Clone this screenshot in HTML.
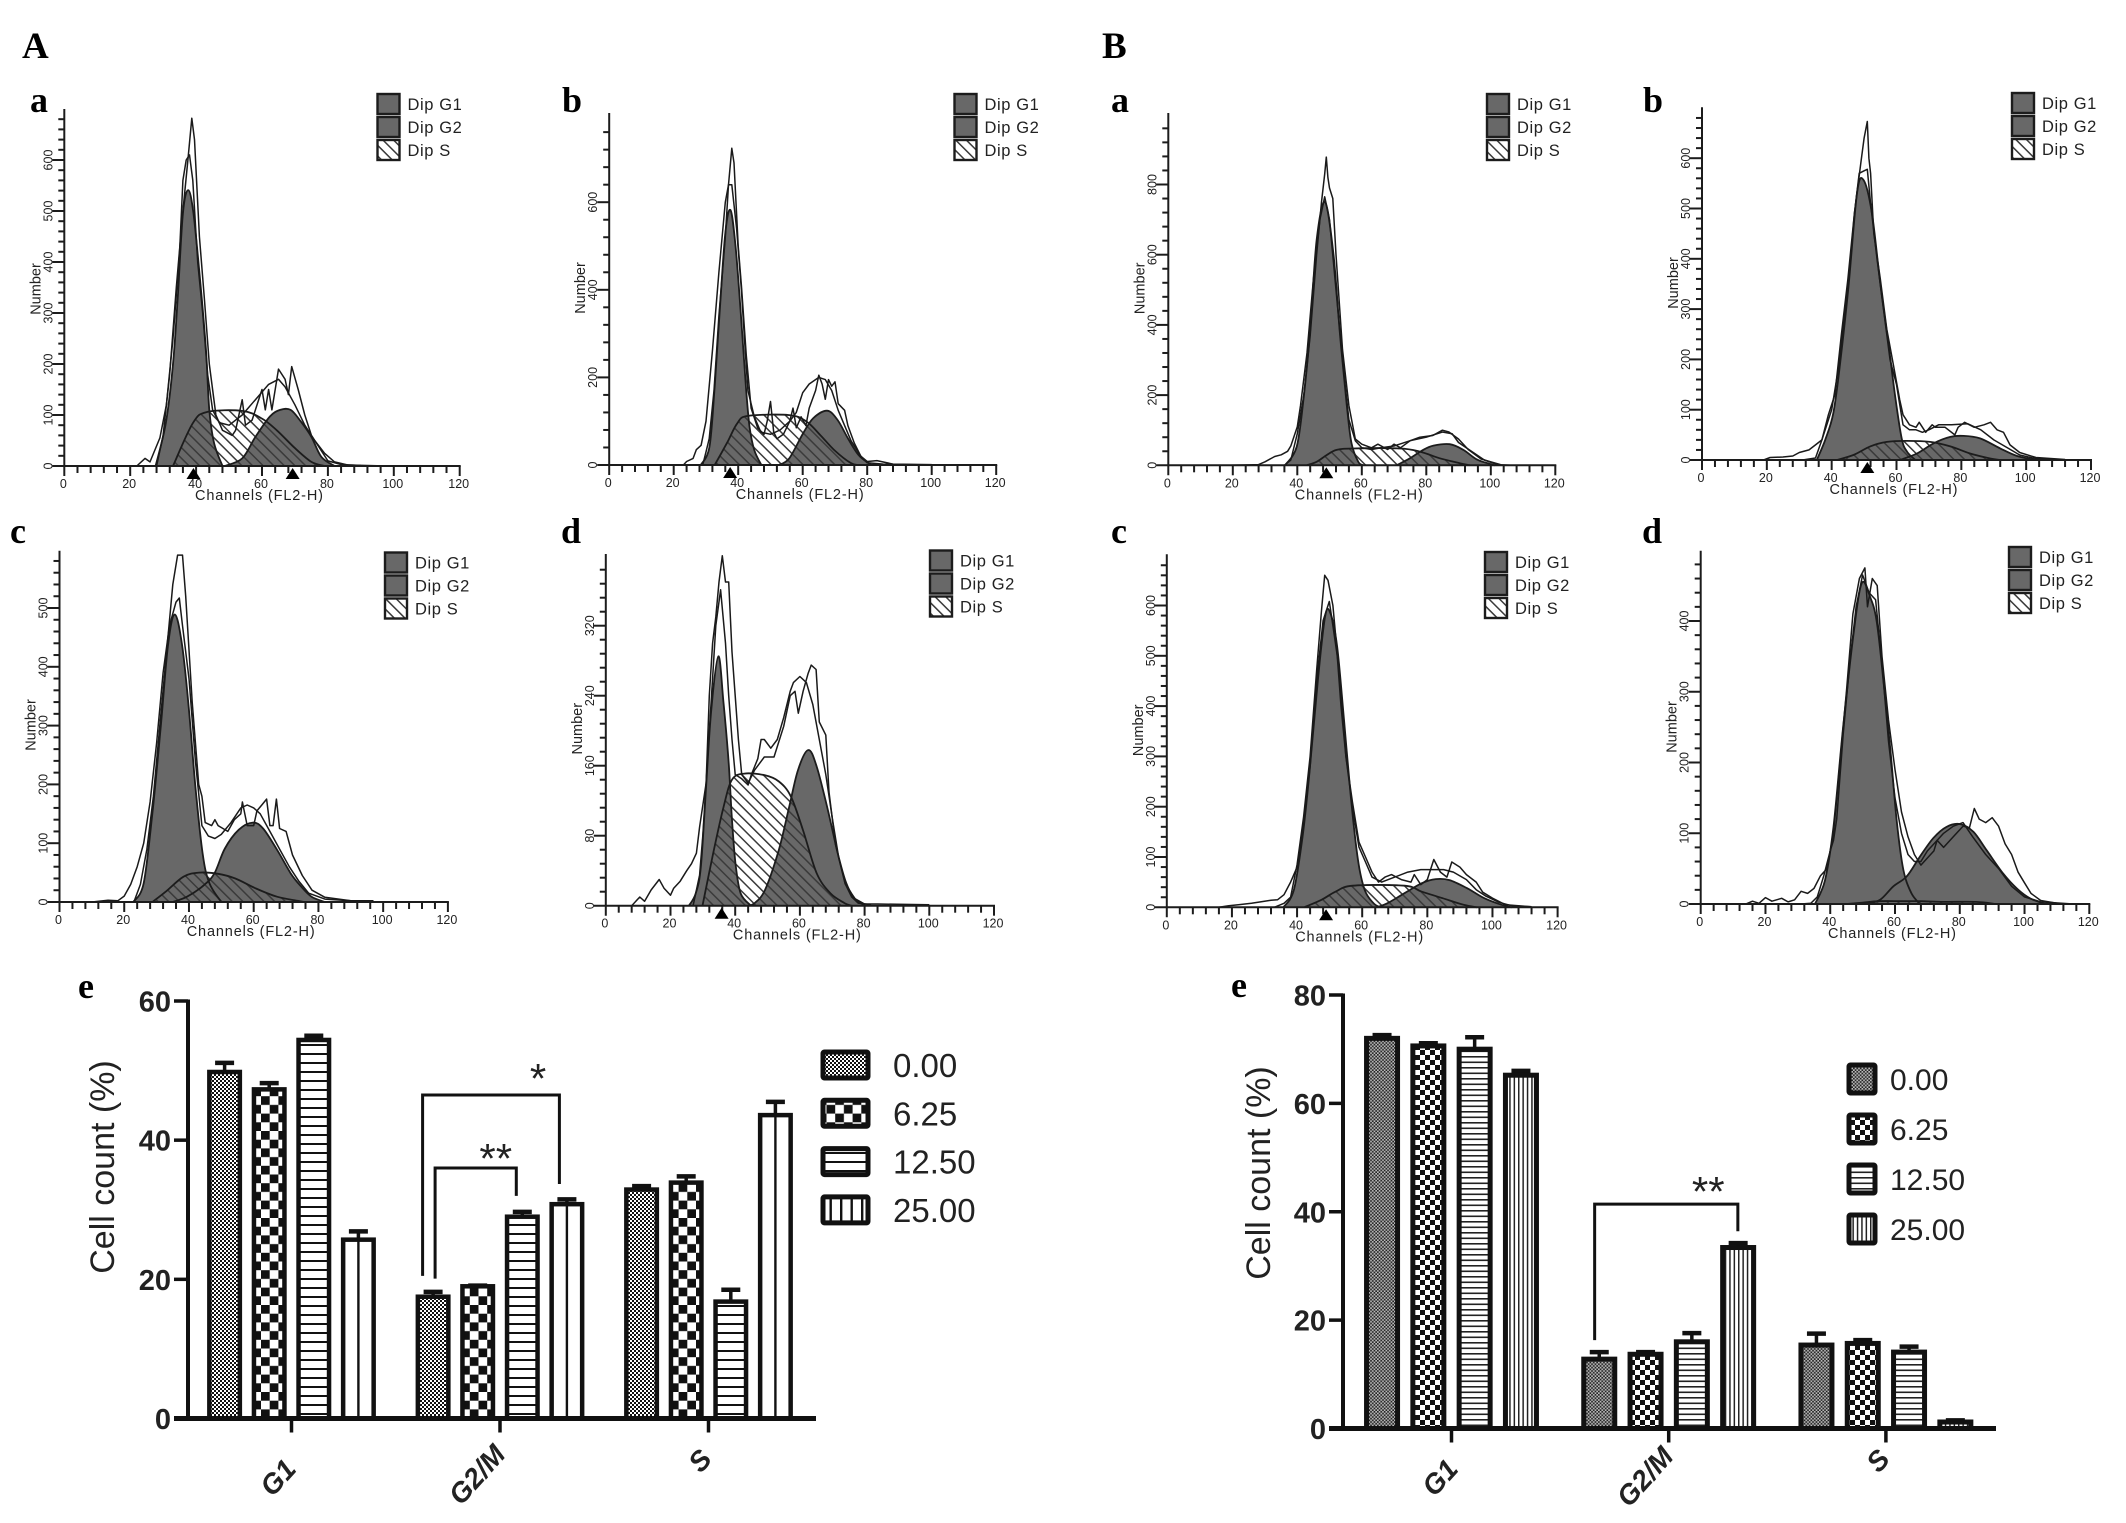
<!DOCTYPE html>
<html lang="en">
<head>
<meta charset="utf-8">
<title>Cell cycle flow cytometry histograms and cell count bar charts</title>
<style>
html,body{margin:0;padding:0;background:#fff;width:2126px;height:1523px;overflow:hidden}
svg{display:block}
text{font-family:"Liberation Sans",sans-serif;fill:#222}
.serif{font-family:"Liberation Serif",serif;font-weight:bold;fill:#000}
</style>
</head>
<body>
<svg id="figure" xmlns="http://www.w3.org/2000/svg" width="2126" height="1523" viewBox="0 0 2126 1523">
<defs>
<pattern id="hatch" width="7.5" height="7.5" patternUnits="userSpaceOnUse" patternTransform="rotate(45)"><rect x="0" y="0" width="7.5" height="1.5" fill="#3a3a3a"/></pattern>
<pattern id="dotsA" width="4" height="4" patternUnits="userSpaceOnUse"><rect width="4" height="4" fill="#fff"/><rect width="2" height="2" fill="#111"/><rect x="2" y="2" width="2" height="2" fill="#111"/></pattern>
<pattern id="checkA" width="17.4" height="17.4" patternUnits="userSpaceOnUse"><rect width="17.4" height="17.4" fill="#fff"/><rect width="8.7" height="8.7" fill="#111"/><rect x="8.7" y="8.7" width="8.7" height="8.7" fill="#111"/></pattern>
<pattern id="hlinesA" width="9" height="9" patternUnits="userSpaceOnUse"><rect width="9" height="9" fill="#fff"/><rect width="9" height="2" fill="#111"/></pattern>
<pattern id="vlinesALegend" width="10.5" height="10.5" patternUnits="userSpaceOnUse"><rect width="10.5" height="10.5" fill="#fff"/><rect width="2.4" height="10.5" fill="#111"/></pattern>
<pattern id="dotsB" width="3.4" height="3.4" patternUnits="userSpaceOnUse"><rect width="3.4" height="3.4" fill="#bbb"/><rect width="1.7" height="1.7" fill="#222"/><rect x="1.7" y="1.7" width="1.7" height="1.7" fill="#222"/></pattern>
<pattern id="checkB" width="10" height="10" patternUnits="userSpaceOnUse"><rect width="10" height="10" fill="#fff"/><rect width="5" height="5" fill="#111"/><rect x="5" y="5" width="5" height="5" fill="#111"/></pattern>
<pattern id="hlinesB" width="5.5" height="5.5" patternUnits="userSpaceOnUse"><rect width="5.5" height="5.5" fill="#fff"/><rect width="5.5" height="1.6" fill="#222"/></pattern>
<pattern id="vlinesB" width="4.4" height="4.4" patternUnits="userSpaceOnUse"><rect width="4.4" height="4.4" fill="#fff"/><rect width="1.5" height="4.4" fill="#222"/></pattern>
</defs>
<text class="serif" x="22" y="58" font-size="37">A</text>
<text class="serif" x="1102" y="58" font-size="37">B</text>
</svg>
<script>
/* ---------- Histogram shared labels ---------- */
const channelTicks = [0,20,40,60,80,100,120];
const legendLabels = ['Dip G1','Dip G2','Dip S'];

/* ---------- Panel A-a ---------- */
const aaYLabels = [100,200,300,400,500,600];
const aaPeaks = [39.2,69.3];
const aaG1Ch = [27.7,30.8,33,34.5,36,37.6,39.2,41.3,43,44,45.5,48];
const aaG1N  = [0,84,200,338,495,541,495,358,227,110,44,0];
const aaSCh = [33,39,43.4,54,60,64.5,70,75,79];
const aaSN  = [0,84,106,108,93,70,35,8,0];
const aaG2Ch = [48.7,54,58,62.4,65.5,68.7,71.8,75,78,82];
const aaG2N  = [0,15,57,97,110,110,87,57,18,0];
const aaR1Ch = [22,24.5,26,29,31,33,35,36,37,38,39,40.5,42,43.5,45,47,50,54,58,62,65,67,70,73,76,79,82,86,98];
const aaR1N  = [0,15,8,55,120,250,420,560,600,610,560,400,300,180,110,85,80,100,130,160,170,155,120,80,50,25,8,2,0];
const aaR2Ch = [28,30,32,34,36,37.5,38.7,39.5,41,42.5,44,46,48,51,52,54,55,57,60,61,62,63,65,67,68,69,71,73,75,77,80,84,90];
const aaR2N  = [0,60,180,350,500,600,682,640,450,330,200,100,70,60,70,130,80,90,150,110,150,110,190,170,140,195,150,100,60,40,10,3,1];

/* ---------- Panel A-b ---------- */
const abYLabels = [200,400,600];
const abPeaks = [37.5];
const abG1Ch = [28.4,31.1,32.7,34.3,36,37.6,39.2,40.8,42.4,43.5,45,47.2];
const abG1N  = [0,42,179,354,529,582,498,346,179,88,34,0];
const abSCh = [32.7,36.5,39.7,43,55.8,61.2,65.5,69.8,75,77.3];
const abSN  = [0,50,95,112,114,99,68,34,4,0];
const abG2Ch = [52.6,55.8,60.1,63.3,67.6,70.8,74,77.3,80.5,81.6];
const abG2N  = [0,15,72,107,124,103,61,23,4,0];
const abR1Ch = [23,24,26,27,28.5,30,32,34,36,37,38,39.5,41,42,43,45,47,50,53,56,58,60,62,65,67,69,71,73,75,78,80,85,100];
const abR1N  = [0,8,15,35,45,100,260,440,600,640,640,540,400,280,170,110,75,70,80,100,120,165,185,200,195,170,125,90,55,20,5,2,0];
const abR2Ch = [29,30,31,32.5,34,36,37,38,38.7,40,41,42.5,44,46,48,49,50,51,52,54,56,57,58,59.5,61,62,64,65,66,67,68,69,70,71,73,74,76,78,80,83,88,100];
const abR2N  = [0,30,60,170,340,520,640,723,690,500,410,250,130,85,70,100,145,75,60,70,100,130,85,110,90,130,170,205,185,150,195,180,190,140,125,90,50,20,8,10,2,1];

/* ---------- Panel A-c ---------- */
const acYLabels = [100,200,300,400,500];
const acPeaks = [];
const acG1Ch = [22.8,26,28.7,31.3,33.5,35.6,37.8,39.9,42,44.2,46.3,50];
const acG1N  = [0,32,151,299,435,489,440,333,196,83,32,0];
const acSCh = [28.7,32.9,38.3,43.1,49,54.3,60.7,67.2,73.6,75.7];
const acSN  = [0,18,43,50,48,40,23,9,2,0];
const acG2Ch = [35,39.4,44.7,47.9,51.1,55.4,59.7,62.9,67.2,71.4,74.7,77.9,82];
const acG2N  = [0,9,29,49,91,123,135,125,89,49,26,9,0];
const acR1Ch = [10,15,18,20,22,24,26,28,30,32,34,36,37,38,40,42,44,46,48,50,53,56,58,60,62,65,68,71,74,77,82,90,96];
const acR1N  = [0,3,2,10,30,60,100,170,270,390,470,510,517,470,380,240,130,112,108,115,135,160,165,160,150,120,90,60,35,15,5,2,1];
const acR2Ch = [23,25,27,29,31,33,35,36.5,38,39,41,43,44,45,47,48,49,52,54,56,56.5,58,60,61,62.5,64,65,66,67,68,70,72,75,78,82,90,97];
const acR2N  = [0,30,90,180,300,420,540,590,590,520,340,200,180,135,130,140,130,120,140,150,170,130,130,155,165,175,130,130,175,125,120,80,45,20,8,2,2];

/* ---------- Panel A-d ---------- */
const adYLabels = [80,160,240,320];
const adPeaks = [35.8];
const adG1Ch = [25.7,27.8,29.4,31,32.6,34.8,36.4,38,39,40.1,41.7,44.9];
const adG1N  = [0,14,45,136,224,285,231,163,98,48,14,0];
const adSCh = [29.9,33.2,36.4,39,42.8,49.2,53.5,57.2,61,65.2,69.5,73.8,75.9];
const adSN  = [0,60,113,144,151,149,142,125,86,37,14,3,0];
const adG2Ch = [44,46,49.2,53.5,56.7,59.4,62.6,65.2,68.4,71.7,74.3,77,80.2];
const adG2N  = [0,3,18,64,113,155,178,159,113,60,26,8,0];
const adR1Ch = [8,10.5,12,14,16.5,18,20,21,23,25,26.5,28,29,31,33,34,35.5,37,38,39,40,42,44,45,47,48,49,51,53,55,57,58,60,62,64,66,68,70,72,74,77,80,84,100];
const adR1N  = [0,10,5,18,30,20,12,20,28,40,48,60,90,140,260,320,361,300,240,190,150,145,138,150,168,190,190,180,190,215,245,255,262,255,230,190,150,100,55,25,8,2,2,1];
const adR2Ch = [27,29,30,31,32,33,34,35,36,37,38,39,40,41,42,43,44,46,49,52,55,57,58.5,59.5,61,62.5,63.5,65,66,68,69,71,74,76,78,82];
const adR2N  = [0,35,80,140,240,300,330,370,400,370,370,290,240,190,150,145,140,155,170,170,205,240,245,220,245,265,275,270,210,195,130,70,25,10,3,1];

/* ---------- Panel B-a ---------- */
const baYLabels = [200,400,600,800];
const baPeaks = [49];
const baG1Ch = [36.2,39.8,41.9,43.9,46,48.6,51.2,53.2,55.3,56.8,58.9,60.5];
const baG1N  = [0,53,186,376,641,750,603,376,176,63,10,0];
const baSCh = [42.9,46,49.1,52.2,57.4,71.8,78,84.2,90.4,93.5];
const baSN  = [0,10,29,44,48,48,39,20,6,0];
const baG2Ch = [70.8,74.9,79,82.2,87.3,91.5,95.6,99.7,101.3];
const baG2N  = [0,20,44,56,60,44,17,4,0];
const baR1Ch = [19,25,28,30,33,35,37,38,40,41,43,45,47,48.5,50,52,54,56,58,60,63,66,70,75,80,85,88,90,94,98,102,106];
const baR1N  = [0,1,2,10,25,30,40,55,110,170,320,530,700,765,700,500,300,130,70,50,45,50,55,70,80,95,90,65,40,15,2,0];
const baR2Ch = [36,38,40,42,44,46,47.5,48.5,49,49.5,50,51,52,54,56,58,60,63,65,68,70,72,75,78,82,85,87,90,93,97,100,103];
const baR2N  = [0,15,90,200,370,600,750,830,878,820,790,760,600,330,170,75,60,50,60,45,60,50,70,80,85,100,95,75,45,18,10,2];

/* ---------- Panel B-b ---------- */
const bbYLabels = [100,200,300,400,500,600];
const bbPeaks = [51];
const bbG1Ch = [35.4,38,40.5,42.6,45.2,47.8,49.8,52.4,55,57.5,59.6,61.6,63.2,65.8];
const bbG1N  = [0,40,93,192,345,530,557,491,351,232,126,43,17,0];
const bbSCh = [41.6,46.7,51.9,57,63.2,70.4,76.6,82.7,88.9,92];
const bbSN  = [0,10,27,36,38,36,27,13,3,0];
const bbG2Ch = [61.1,66.3,71.4,76.6,80.7,85.8,92,97.2,102.3,104.4];
const bbG2N  = [0,13,33,46,48,43,23,8,1,0];
const bbR1Ch = [19,21,25,28,30,33,35,37,38,40,42,45,47,48.5,50,51,52,54,56,58,60,62,64,66,68,70,73,77,82,86,90,94,98,102,107];
const bbR1N  = [0,5,6,8,15,20,30,40,60,100,180,340,490,570,575,578,510,400,300,200,150,70,60,60,55,60,70,70,72,60,40,25,10,4,1];
const bbR2Ch = [31,35,37,39,41,43,45,47,49,50,51,51.5,52,53,55,57,59,61,62,64,66,67,69,71,72,75,78,79,81,84,87,89,91,93,95,98,103,112];
const bbR2N  = [0,4,40,90,130,250,360,490,590,640,673,600,570,450,360,260,190,120,90,70,65,75,55,70,65,65,50,65,75,65,70,75,60,55,30,15,5,1];

/* ---------- Panel B-c ---------- */
const bcYLabels = [100,200,300,400,500,600];
const bcPeaks = [48.9];
const bcG1Ch = [35.8,39,41.7,43.8,46.4,48.6,50.2,52.3,54.4,56.5,58.7,60.8,63.5,65.6];
const bcG1N  = [0,34,141,267,452,578,585,519,373,220,94,34,8,0];
const bcSCh = [42.2,47.5,51.8,57.1,73,78.3,84.7,91.1,95.3];
const bcSN  = [0,15,31,43,43,31,18,5,0];
const bcG2Ch = [64.5,67.7,73,78.3,82.6,86.8,92.2,97.5,102.8,106];
const bcG2N  = [0,8,28,48,56,54,38,18,5,0];
const bcR1Ch = [16,19,22,26,30,32,34,36,38,40,42,44,46,48,49.9,51,53,55,57,59,61,63,66,70,74,78,82,85,88,92,95,98,102,106,112];
const bcR1N  = [0,3,5,8,12,14,15,25,50,80,170,280,450,570,608,560,470,300,200,120,90,60,50,60,70,75,75,75,70,55,35,22,10,3,1];
const bcR2Ch = [33,36,38,40,42,44,46,47.5,48.5,49.5,51,52,53.5,55,57,59,61,63,65,67,69,72,75,76,78,80,82,84,86,87.5,90,92,95,97,100,104,112];
const bcR2N  = [0,8,20,85,180,300,470,590,660,650,600,530,400,300,210,130,100,70,50,60,65,55,50,65,45,55,95,70,60,90,80,65,50,30,18,5,1];

/* ---------- Panel B-d ---------- */
const bdYLabels = [100,200,300,400];
const bdPeaks = [];
const bdG1Ch = [35.3,38.4,41,44,47.1,49.7,52.3,54.3,56.4,58.5,60.5,62.6,65.1,67.7];
const bdG1N  = [0,34,109,251,378,453,434,401,317,222,119,48,15,0];
const bdSCh = [45,50,55,62,68,75,85,91];
const bdSN  = [0,2,4,4,4,3,3,0];
const bdG2Ch = [51.2,55.4,59.5,63.6,67.7,71.8,75.9,80.1,84.2,88.3,93.4,97.6,101.7,105.8,107.3];
const bdG2N  = [0,6,25,39,67,93,109,113,102,76,43,22,8,1,0];
const bdR1Ch = [14,16,18,20,22,25,27,29,31,33,35,37,39,40,41,42,44,46,48,50,52,54,56,58,60,62,64,66,68,70,72,75,78,81,84,88,92,96,100,105,115];
const bdR1N  = [0,4,1,9,4,8,3,6,18,15,22,40,50,75,90,120,240,340,420,465,440,430,340,230,150,100,70,60,60,75,85,100,110,115,95,70,50,25,10,3,0];
const bdR2Ch = [31,34,36,38,40,41,43,45,47,49,50.7,51.5,53,54.5,56,58,60,62,64,66,68,70,72,73,75,78,81,83,84.5,86,88,90,92,94,96,98,100,102,105,110];
const bdR2N  = [0,1,10,40,75,100,200,300,410,460,475,420,460,450,350,260,190,130,95,70,55,65,75,90,80,95,110,108,135,120,115,122,110,85,70,45,30,15,5,1];

/* ---------- Bar chart A (panel e) ---------- */
const aCategories = ['G1','G2/M','S'];
const aDoseLabels = ['0.00','6.25','12.50','25.00'];
const aTicks = [0,20,40,60];
const aDose000 = [49.8,17.5,32.9];
const aDose625 = [47.3,19.0,33.9];
const aDose1250 = [54.4,29.0,16.8];
const aDose2500 = [25.7,30.8,43.6];
const aErr000 = [1.3,0.7,0.5];
const aErr625 = [0.9,0.1,0.9];
const aErr1250 = [0.6,0.7,1.7];
const aErr2500 = [1.2,0.7,1.9];

/* ---------- Bar chart B (panel e) ---------- */
const bCategories = ['G1','G2/M','S'];
const bDoseLabels = ['0.00','6.25','12.50','25.00'];
const bTicks = [0,20,40,60,80];
const bDose000 = [72.0,12.8,15.4];
const bDose625 = [70.6,13.7,15.7];
const bDose1250 = [70.0,16.0,14.1];
const bDose2500 = [65.2,33.4,1.2];
const bErr000 = [0.6,1.3,2.1];
const bErr625 = [0.5,0.4,0.6];
const bErr1250 = [2.2,1.6,1.0];
const bErr2500 = [0.8,0.8,0.3];

const NS = 'http://www.w3.org/2000/svg';
const root = document.getElementById('figure');
function make(parent, tag, attrs, txt){
  const el = document.createElementNS(NS, tag);
  for (const k in attrs) el.setAttribute(k, attrs[k]);
  if (txt !== undefined) el.textContent = txt;
  parent.appendChild(el);
  return el;
}
function zip(xs, ys){
  const out = [];
  for (let i = 0; i < Math.min(xs.length, ys.length); i++) out.push([xs[i], ys[i]]);
  return out;
}
function smooth(p){
  let d = 'M' + p[0][0].toFixed(1) + ' ' + p[0][1].toFixed(1);
  for (let i = 0; i < p.length - 1; i++){
    const a = p[Math.max(i-1,0)], b = p[i], c = p[i+1], e = p[Math.min(i+2,p.length-1)];
    const c1x = b[0] + (c[0]-a[0])/6, c1y = b[1] + (c[1]-a[1])/6;
    const c2x = c[0] - (e[0]-b[0])/6, c2y = c[1] - (e[1]-b[1])/6;
    d += 'C' + c1x.toFixed(1) + ' ' + c1y.toFixed(1) + ' ' + c2x.toFixed(1) + ' ' + c2y.toFixed(1) + ' ' + c[0].toFixed(1) + ' ' + c[1].toFixed(1);
  }
  return d;
}

function drawHistogram(cfg){
  const x = ch => cfg.x0 + ch * (cfg.x120 - cfg.x0) / 120;
  const y = n => cfg.y0 - n * cfg.pxPerCount;
  const g = make(root, 'g', {});
  
  

  const lab = make(g, 'text', {class:'serif', x:cfg.labelX, y:cfg.labelY, 'font-size':36}, cfg.letter);
  
  

  const pts = s => zip(s[0], s[1]).map(p => [x(p[0]), y(p[1])]);
  const g1 = pts(cfg.g1), g2 = pts(cfg.g2), s = pts(cfg.s);
  const area = p => smooth(p) + 'L' + p[p.length-1][0].toFixed(1) + ' ' + cfg.y0 + 'L' + p[0][0].toFixed(1) + ' ' + cfg.y0 + 'Z';

  const g1Fill = make(g, 'path', {d:area(g1), fill:'#686868'});
  
  
  const g2Fill = make(g, 'path', {d:area(g2), fill:'#686868'});
  
  
  const sFill = make(g, 'path', {d:area(s), fill:'url(#hatch)'});
  
  

  [[g1,'dip-g1-outline'],[g2,'dip-g2-outline'],[s,'dip-s-outline']].forEach(function(o){
    const line = make(g, 'path', {d:smooth(o[0]), fill:'none', stroke:'#1c1c1c', 'stroke-width':1.8});
    
    
  });
  [[cfg.r1,'raw-histogram-trace-1'],[cfg.r2,'raw-histogram-trace-2']].forEach(function(o){
    const line = make(g, 'polyline', {points:pts(o[0]).map(p => p[0].toFixed(1)+','+p[1].toFixed(1)).join(' '), fill:'none', stroke:'#1a1a1a', 'stroke-width':1.5, 'stroke-linejoin':'round'});
    
    
  });

  /* axes */
  const yAxis = make(g, 'line', {x1:cfg.x0, x2:cfg.x0, y1:cfg.top, y2:cfg.y0 + 10, stroke:'#1c1c1c', 'stroke-width':2});
  
  
  const xAxis = make(g, 'line', {x1:cfg.x0 - 12, x2:cfg.x120 + 1, y1:cfg.y0, y2:cfg.y0, stroke:'#1c1c1c', 'stroke-width':2});
  
  

  for (let c = 4; c <= 120; c += 4){
    const major = c % 20 === 0;
    const t = make(g, 'line', {x1:x(c), x2:x(c), y1:cfg.y0, y2:cfg.y0 + (major ? 10 : 7), stroke:'#1c1c1c', 'stroke-width':2});
    
    
  }
  for (let n = cfg.yStep; y(n) >= cfg.top + 2; n += cfg.yStep){
    const major = n % cfg.yLabels[0] === 0;
    const t = make(g, 'line', {x1:cfg.x0 - (major ? 12 : 6), x2:cfg.x0, y1:y(n), y2:y(n), stroke:'#1c1c1c', 'stroke-width':2});
    
    
  }
  channelTicks.forEach(function(c){
    const t = make(g, 'text', {x:x(c) - 1, y:cfg.y0 + 22, 'font-size':12.5, 'text-anchor':'middle'}, String(c));
    
    
  });
  [0].concat(cfg.yLabels).forEach(function(n){
    const lx = cfg.x0 - 12, ly = y(n);
    const t = make(g, 'text', {x:lx, y:ly, 'font-size':12.5, 'text-anchor':'middle', transform:'rotate(-90 ' + lx + ' ' + ly + ')'}, String(n));
    
    
  });
  const nx = cfg.x0 - 24, ny = cfg.y0 - 177;
  const ytitle = make(g, 'text', {x:nx, y:ny, 'font-size':14.5, 'text-anchor':'middle', transform:'rotate(-90 ' + nx + ' ' + ny + ')'}, 'Number');
  
  
  const cx = (cfg.x0 + cfg.x120) / 2 - 3;
  const xtitle = make(g, 'text', {x:cx, y:cfg.y0 + 34, 'font-size':14.5, 'text-anchor':'middle', textLength:128, lengthAdjust:'spacing'}, 'Channels (FL2-H)');
  
  

  cfg.peaks.forEach(function(c){
    const px = x(c);
    const tri = make(g, 'polygon', {points:(px-7)+','+(cfg.y0+13)+' '+(px+7)+','+(cfg.y0+13)+' '+px+','+(cfg.y0+2), fill:'#000'});
    
    
  });

  legendLabels.forEach(function(l, i){
    const sy = cfg.legendY + i * 23;
    const sw = make(g, 'rect', {x:cfg.legendX, y:sy, width:22, height:20, fill:i === 2 ? 'url(#hatch)' : '#686868', stroke:'#1c1c1c', 'stroke-width':2.4});
    
    
    const tx = make(g, 'text', {x:cfg.legendX + 30, y:sy + 16, 'font-size':16.5, 'letter-spacing':0.6}, l);
    
    
  });
}

drawHistogram({id:'a-a', letter:'a', labelX:30, labelY:112, x0:64.3, x120:459.7, y0:466, top:109, pxPerCount:0.51, yStep:20, yLabels:aaYLabels, peaks:aaPeaks, legendX:377.5, legendY:94, g1:[aaG1Ch,aaG1N], s:[aaSCh,aaSN], g2:[aaG2Ch,aaG2N], r1:[aaR1Ch,aaR1N], r2:[aaR2Ch,aaR2N]});
drawHistogram({id:'a-b', letter:'b', labelX:562, labelY:112, x0:609.2, x120:996.2, y0:465, top:113, pxPerCount:0.438, yStep:40, yLabels:abYLabels, peaks:abPeaks, legendX:954.5, legendY:94, g1:[abG1Ch,abG1N], s:[abSCh,abSN], g2:[abG2Ch,abG2N], r1:[abR1Ch,abR1N], r2:[abR2Ch,abR2N]});
drawHistogram({id:'a-c', letter:'c', labelX:10, labelY:543, x0:59.5, x120:447.9, y0:902, top:550.7, pxPerCount:0.588, yStep:20, yLabels:acYLabels, peaks:acPeaks, legendX:385, legendY:552.5, g1:[acG1Ch,acG1N], s:[acSCh,acSN], g2:[acG2Ch,acG2N], r1:[acR1Ch,acR1N], r2:[acR2Ch,acR2N]});
drawHistogram({id:'a-d', letter:'d', labelX:561, labelY:543, x0:605.8, x120:994, y0:905.7, top:554, pxPerCount:0.875, yStep:16, yLabels:adYLabels, peaks:adPeaks, legendX:930, legendY:550.5, g1:[adG1Ch,adG1N], s:[adSCh,adSN], g2:[adG2Ch,adG2N], r1:[adR1Ch,adR1N], r2:[adR2Ch,adR2N]});
drawHistogram({id:'b-a', letter:'a', labelX:1111, labelY:112, x0:1168.3, x120:1555.3, y0:465.3, top:113, pxPerCount:0.351, yStep:40, yLabels:baYLabels, peaks:baPeaks, legendX:1487, legendY:94, g1:[baG1Ch,baG1N], s:[baSCh,baSN], g2:[baG2Ch,baG2N], r1:[baR1Ch,baR1N], r2:[baR2Ch,baR2N]});
drawHistogram({id:'b-b', letter:'b', labelX:1643, labelY:112, x0:1702, x120:2091, y0:460, top:107.3, pxPerCount:0.503, yStep:20, yLabels:bbYLabels, peaks:bbPeaks, legendX:2012, legendY:93, g1:[bbG1Ch,bbG1N], s:[bbSCh,bbSN], g2:[bbG2Ch,bbG2N], r1:[bbR1Ch,bbR1N], r2:[bbR2Ch,bbR2N]});
drawHistogram({id:'b-c', letter:'c', labelX:1111, labelY:543, x0:1166.8, x120:1557.6, y0:907.3, top:554.3, pxPerCount:0.503, yStep:20, yLabels:bcYLabels, peaks:bcPeaks, legendX:1485, legendY:552, g1:[bcG1Ch,bcG1N], s:[bcSCh,bcSN], g2:[bcG2Ch,bcG2N], r1:[bcR1Ch,bcR1N], r2:[bcR2Ch,bcR2N]});
drawHistogram({id:'b-d', letter:'d', labelX:1642, labelY:543, x0:1700.7, x120:2089.3, y0:904, top:550.7, pxPerCount:0.7075, yStep:20, yLabels:bdYLabels, peaks:bdPeaks, legendX:2009, legendY:547, g1:[bdG1Ch,bdG1N], s:[bdSCh,bdSN], g2:[bdG2Ch,bdG2N], r1:[bdR1Ch,bdR1N], r2:[bdR2Ch,bdR2N]});

function drawBars(cfg){
  const y = v => cfg.y0 - (v / cfg.yMax) * (cfg.y0 - cfg.yTop);
  const catX = i => cfg.firstCat + i * cfg.catStep;
  const barX = (i, d) => catX(i) + (d - 1.5) * cfg.barStep;
  const g = make(root, 'g', {});
  
  

  const lab = make(g, 'text', {class:'serif', x:cfg.labelX, y:cfg.labelY, 'font-size':36}, 'e');
  
  

  cfg.values.forEach(function(series, d){
    series.forEach(function(v, i){
      const cx = barX(i, d), top = y(v), errTop = y(v + cfg.errors[d][i]);
      const stem = make(g, 'line', {x1:cx, x2:cx, y1:top, y2:errTop, stroke:'#111', 'stroke-width':3.5});
      
      
      const cap = make(g, 'line', {x1:cx - 9.5, x2:cx + 9.5, y1:errTop, y2:errTop, stroke:'#111', 'stroke-width':4.5});
      
      
      const bar = make(g, 'rect', {x:cx - cfg.barW / 2, y:top, width:cfg.barW, height:cfg.y0 - top, fill:cfg.patterns[d] ? 'url(#' + cfg.patterns[d] + ')' : '#fff', stroke:'#111', 'stroke-width':cfg.barStroke});
      
      
      if (!cfg.patterns[d]) {
        const inner = make(g, 'line', {x1:cx, x2:cx, y1:top, y2:cfg.y0, stroke:'#111', 'stroke-width':2.4});
        
        
      }
    });
  });

  const yAxis = make(g, 'line', {x1:cfg.axisX, x2:cfg.axisX, y1:cfg.yTop - 1.5, y2:cfg.y0 + 2, stroke:'#111', 'stroke-width':4});
  
  
  const xAxis = make(g, 'line', {x1:cfg.axisX - 14, x2:cfg.axisEnd, y1:cfg.y0, y2:cfg.y0, stroke:'#111', 'stroke-width':5});
  
  

  cfg.ticks.forEach(function(v){
    const t = make(g, 'line', {x1:cfg.axisX - 14, x2:cfg.axisX, y1:y(v), y2:y(v), stroke:'#111', 'stroke-width':3.5});
    
    
    const l = make(g, 'text', {x:cfg.axisX - 17, y:y(v) + 10.5, 'font-size':29, 'font-weight':'bold', 'text-anchor':'end', fill:'#111'}, String(v));
    
    
  });
  cfg.categories.forEach(function(c, i){
    const t = make(g, 'line', {x1:catX(i), x2:catX(i), y1:cfg.y0, y2:cfg.y0 + 14, stroke:'#111', 'stroke-width':3.5});
    
    
    const p = cfg.catLabels[i];
    const l = make(g, 'text', {x:p[0], y:p[1], 'font-size':28, 'font-weight':'bold', 'font-style':'italic', 'text-anchor':'middle', transform:'rotate(-48 ' + p[0] + ' ' + p[1] + ')'}, c);
    
    
  });
  const tx = cfg.titleX, ty = cfg.titleY;
  const title = make(g, 'text', {x:tx, y:ty, 'font-size':34, 'text-anchor':'middle', transform:'rotate(-90 ' + tx + ' ' + ty + ')'}, 'Cell count (%)');
  
  

  cfg.doses.forEach(function(d, i){
    const ly = cfg.legendY + i * cfg.legendStep;
    const sw = make(g, 'rect', {x:cfg.legendX, y:ly, width:cfg.swW, height:cfg.swH, fill:'url(#' + cfg.legendPatterns[i] + ')', stroke:'#111', 'stroke-width':5, rx:1.5});
    
    
    const t = make(g, 'text', {x:cfg.legendTextX, y:ly + cfg.legendBase, 'font-size':cfg.legendFont, fill:'#111'}, d);
    
    
  });

  cfg.brackets.forEach(function(b){
    const x1 = barX(b.cat, b.from) + b.dx1, x2 = barX(b.cat, b.to) + b.dx2;
    const path = make(g, 'path', {d:'M' + x1 + ' ' + y(b.lowLeft) + 'V' + y(b.top) + 'H' + x2 + 'V' + y(b.lowRight), fill:'none', stroke:'#111', 'stroke-width':3});
    
    
    const star = make(g, 'text', {x:(x1 + x2) / 2 + b.starDx, y:y(b.top) + b.starDy, 'font-size':42, 'text-anchor':'middle', fill:'#111'}, b.star);
    
    
  });
}

drawBars({
  id:'a', labelX:78, labelY:998, axisX:188, axisEnd:816, y0:1418.5, yTop:1001, yMax:60, ticks:aTicks,
  firstCat:291.5, catStep:208.5, barStep:44.6, barW:30.5, barStroke:4.5,
  categories:aCategories, doses:aDoseLabels,
  values:[aDose000,aDose625,aDose1250,aDose2500], errors:[aErr000,aErr625,aErr1250,aErr2500],
  patterns:['dotsA','checkA','hlinesA',null], legendPatterns:['dotsA','checkA','hlinesA','vlinesALegend'],
  catLabels:[[285,1484],[484,1481],[707,1467]], titleX:114, titleY:1167,
  legendX:823, legendY:1052, swW:45, swH:26, legendStep:48.3, legendTextX:893, legendBase:25, legendFont:33,
  brackets:[
    {cat:1, from:0, to:3, dx1:-10.5, dx2:-7.5, lowLeft:20.5, top:46.5, lowRight:33.7, star:'*', starDx:47, starDy:-2},
    {cat:1, from:0, to:2, dx1:2, dx2:-6, lowLeft:20.1, top:36, lowRight:32, star:'**', starDx:20, starDy:5}
  ]
});
drawBars({
  id:'b', labelX:1231, labelY:997, axisX:1343, axisEnd:1996, y0:1428.5, yTop:995, yMax:80, ticks:bTicks,
  firstCat:1451.5, catStep:217.2, barStep:46.3, barW:31, barStroke:5,
  categories:bCategories, doses:bDoseLabels,
  values:[bDose000,bDose625,bDose1250,bDose2500], errors:[bErr000,bErr625,bErr1250,bErr2500],
  patterns:['dotsB','checkB','hlinesB','vlinesB'], legendPatterns:['dotsB','checkB','hlinesB','vlinesB'],
  catLabels:[[1447,1484],[1652,1483],[1885,1467]], titleX:1270, titleY:1173,
  legendX:1849, legendY:1065, swW:26, swH:28, legendStep:50, legendTextX:1890, legendBase:25, legendFont:30,
  brackets:[
    {cat:1, from:0, to:3, dx1:-4.6, dx2:-0.3, lowLeft:16.3, top:41.4, lowRight:36.4, star:'**', starDx:42, starDy:2}
  ]
});
</script>
</body>
</html>
